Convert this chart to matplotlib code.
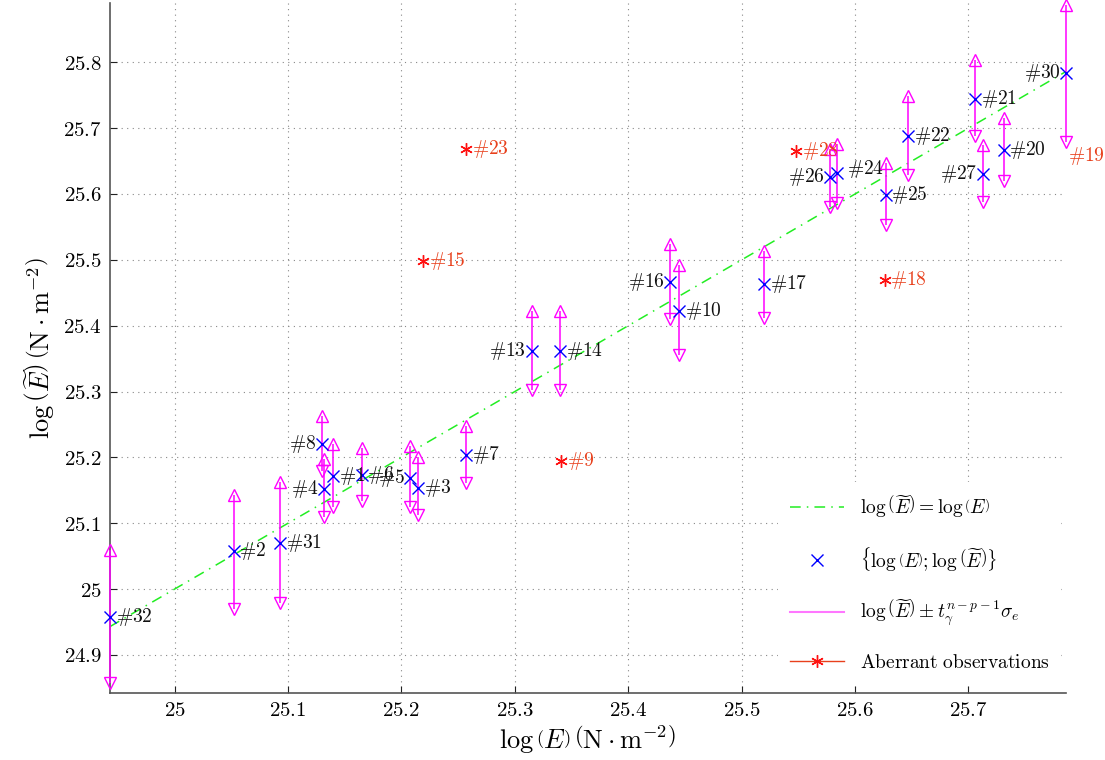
import matplotlib
matplotlib.use("Agg")
import matplotlib.pyplot as plt
from matplotlib.lines import Line2D
from matplotlib.ticker import FuncFormatter
import numpy as np

plt.rcParams['mathtext.fontset'] = 'cm'
plt.rcParams['font.family'] = 'serif'
plt.rcParams['font.serif'] = ['DejaVu Serif']

# observations: id, log(E), log(E~), interval top, interval bottom
obs_id = [32, 2, 31, 8, 4, 1, 6, 5, 3, 7, 13, 14, 16, 10, 17,
          26, 24, 25, 22, 21, 27, 20, 30]
log_e = [24.943, 25.052, 25.093, 25.130, 25.132, 25.140, 25.165, 25.208, 25.215,
         25.257, 25.315, 25.340, 25.437, 25.445, 25.520,
         25.578, 25.584, 25.627, 25.647, 25.706, 25.713, 25.731, 25.786]
log_e_tilde = [24.957, 25.058, 25.070, 25.220, 25.152, 25.171, 25.174, 25.168, 25.153,
               25.203, 25.362, 25.362, 25.467, 25.423, 25.463,
               25.626, 25.632, 25.599, 25.688, 25.745, 25.631, 25.667, 25.783]
upper = [25.060, 25.143, 25.162, 25.263, 25.197, 25.220, 25.214, 25.217, 25.201,
         25.247, 25.422, 25.422, 25.524, 25.492, 25.514,
         25.668, 25.676, 25.647, 25.749, 25.803, 25.675, 25.715, 25.887]
lower = [24.858, 24.970, 24.979, 25.179, 25.110, 25.124, 25.134, 25.125, 25.113,
         25.161, 25.303, 25.303, 25.410, 25.356, 25.411,
         25.580, 25.587, 25.553, 25.629, 25.688, 25.588, 25.619, 25.679]

# aberrant observations
ab_id = [23, 15, 9, 28, 18, 19]
ab_x = [25.257, 25.219, 25.341, 25.548, 25.626, 25.793]
ab_y = [25.669, 25.499, 25.194, 25.665, 25.469, 25.657]

left_labels = {16, 13, 8, 4, 26, 27, 30, 5}

xmin, xmax = 24.943, 25.786
ymin, ymax = 24.842, 25.890

fig = plt.figure(figsize=(11.05, 7.6), dpi=100)
ax = fig.add_axes([0.0995, 0.088, 0.8652, 0.908])

grey = '#555555'
ax.grid(True, linestyle=(0, (1, 4)), color='#888888', linewidth=0.8)
ax.set_axisbelow(True)

# y = x line
ax.plot([xmin, xmax], [xmin, xmax], color='#22ee22', linestyle=(0, (7, 4, 1, 4)),
        linewidth=1.1, zorder=2)

# prediction intervals
mag = '#ff00ff'
ax.vlines(log_e, lower, upper, color=mag, linewidth=1.1, zorder=3, clip_on=False)
ax.plot(log_e, upper, linestyle='none', marker='^', markersize=8, mfc='none',
        mec=mag, mew=1.0, zorder=3, clip_on=False)
ax.plot(log_e, lower, linestyle='none', marker='v', markersize=8, mfc='none',
        mec=mag, mew=1.0, zorder=3, clip_on=False)

# observations
ax.plot(log_e, log_e_tilde, linestyle='none', marker='x', markersize=8,
        color='#0000ff', mew=1.0, zorder=4, clip_on=False)

for i, x, y in zip(obs_id, log_e, log_e_tilde):
    if i in left_labels:
        ax.annotate(r'$\#%d$' % i, (x, y), xytext=(-4, 0), textcoords='offset points',
                    ha='right', va='center', fontsize=14, color='#111111', zorder=5)
    elif i == 24:
        ax.annotate(r'$\#%d$' % i, (x, y), xytext=(7, 3), textcoords='offset points',
                    ha='left', va='center', fontsize=14, color='#111111', zorder=5)
    else:
        ax.annotate(r'$\#%d$' % i, (x, y), xytext=(4, 0), textcoords='offset points',
                    ha='left', va='center', fontsize=14, color='#111111', zorder=5)

red = '#e8401c'
star = (6, 2, 0)
ax.plot(ab_x, ab_y, linestyle='none', marker=star, markersize=9, color='#ff1010',
        mew=1.0, zorder=4)
for i, x, y in zip(ab_id, ab_x, ab_y):
    dx = -4 if i == 19 else 4
    ax.annotate(r'$\#%d$' % i, (x, y), xytext=(dx, 0), textcoords='offset points',
                ha='left', va='center', fontsize=14, color=red, zorder=5,
                annotation_clip=False)

ax.set_xlim(xmin, xmax)
ax.set_ylim(ymin, ymax)
ax.set_xticks([25.0, 25.1, 25.2, 25.3, 25.4, 25.5, 25.6, 25.7])
ax.set_yticks([24.9, 25.0, 25.1, 25.2, 25.3, 25.4, 25.5, 25.6, 25.7, 25.8])
fmt = FuncFormatter(lambda v, p: r'$%s$' % ('%.1f' % v).rstrip('0').rstrip('.'))
ax.xaxis.set_major_formatter(fmt)
ax.yaxis.set_major_formatter(fmt)
ax.tick_params(direction='in', length=5, width=0.8, color='#222222', labelsize=15,
               pad=6)
for s in ['top', 'right']:
    ax.spines[s].set_visible(False)
for s in ['left', 'bottom']:
    ax.spines[s].set_color(grey)
    ax.spines[s].set_linewidth(1.2)

ax.set_xlabel(r'$\log\left(E\right)\,\left(\mathrm{N}\cdot\mathrm{m}^{-2}\right)$',
              fontsize=19, labelpad=2)
ax.set_ylabel(r'$\log\left(\widetilde{E}\right)\,\left(\mathrm{N}\cdot\mathrm{m}^{-2}\right)$',
              fontsize=19, labelpad=4)

handles = [
    Line2D([], [], color='#22ee22', linestyle=(0, (7, 4, 1, 4)), linewidth=1.1),
    Line2D([], [], color='#0000ff', linestyle='none', marker='x', markersize=8),
    Line2D([], [], color='#ff77ff', linewidth=1.5),
    Line2D([], [], color=red, marker=star, markersize=9, mec='#ff1010', linewidth=1.0),
]
labels = [
    r'$\log\left(\widetilde{E}\right) = \log\left(E\right)$',
    r'$\left\{\log\left(E\right);\log\left(\widetilde{E}\right)\right\}$',
    r'$\log\left(\widetilde{E}\right) \pm t_{\gamma}^{n-p-1}\sigma_e$',
    r'$\mathrm{Aberrant\ observations}$',
]
leg = ax.legend(handles, labels, loc='lower right', bbox_to_anchor=(1.005, 0.0),
                fontsize=14, frameon=True, framealpha=1.0, edgecolor='white',
                handlelength=2.8, labelspacing=1.3, borderpad=0.6)
leg.get_frame().set_linewidth(0)

fig.savefig('out.png', dpi=100)
